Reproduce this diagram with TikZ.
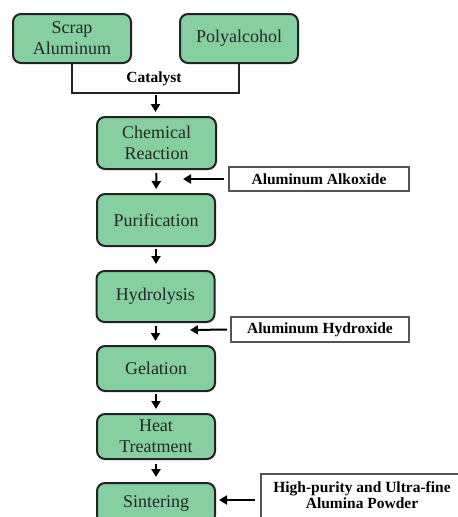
\documentclass[tikz,border=0pt]{standalone}
\usepackage{fontspec}
\setmainfont{Liberation Serif}
\usetikzlibrary{arrows.meta}
\definecolor{boxgreen}{RGB}{134,207,160}
\definecolor{edgegray}{RGB}{35,35,35}
\definecolor{labgray}{RGB}{85,85,85}
\tikzset{
  procbox/.style={draw=edgegray, line width=2pt, fill=boxgreen, rounded corners=8pt,
    minimum width=118pt, align=center, inner sep=1pt, text=black!85,
    font=\fontsize{18}{21}\selectfont},
  labbox/.style={draw=labgray, line width=2pt, fill=white, align=center, inner sep=1pt,
    font=\fontsize{15.5}{16.5}\selectfont\bfseries},
  flowarrow/.style={line width=2pt, -{Triangle[length=8pt,width=9pt]}},
  bracketline/.style={draw=edgegray, line width=1.5pt}
}
\begin{document}
\begin{tikzpicture}[x=1pt,y=-1pt]
\useasboundingbox (0,0) rectangle (458,517);
\clip (0,0) rectangle (458,517);
\node[procbox, minimum height=49pt] (scrap) at (72,38.5) {Scrap\\Aluminum};
\node[procbox, minimum height=49pt] (poly) at (239,38.5) {Polyalcohol};
\node[procbox, minimum width=119pt, minimum height=52pt] (chem) at (156.5,143) {Chemical\\Reaction};
\node[procbox, minimum height=52pt] (purif) at (156,220) {Purification};
\node[procbox, minimum height=51pt] (hydro) at (155.5,296.5) {Hydrolysis};
\node[procbox, minimum height=45pt] (gel) at (156,368.5) {Gelation};
\node[procbox, minimum height=45pt] (heat) at (156,436.5) {Heat\\Treatment};
\node[procbox, minimum height=40pt] (sint) at (156,503) {Sintering};

\coordinate (join) at (155.5,93);
\draw[bracketline] (scrap.south) |- (join) -| (poly.south);
\node[font=\fontsize{15.5}{16.5}\selectfont\bfseries, inner sep=0pt] (cat) at (154,79) {Catalyst};
\draw[flowarrow, shorten <=2pt, shorten >=4pt] (join) -- (join |- chem.north);

\draw[flowarrow, shorten <=3pt, shorten >=4pt] (chem.south) -- (purif.north);
\draw[flowarrow, shorten <=2pt, shorten >=6pt] (purif.south) -- (purif.south |- hydro.north);
\draw[flowarrow, shorten <=3pt, shorten >=4pt] (hydro.south) -- (hydro.south |- gel.north);
\draw[flowarrow, shorten <=2pt, shorten >=4pt] (gel.south) -- (heat.north);
\draw[flowarrow, shorten <=4pt, shorten >=5pt] (heat.south) -- (sint.north);

\node[labbox, minimum width=180pt, minimum height=24pt] (alk) at (319,179) {Aluminum Alkoxide};
\coordinate (alkend) at (183,179);
\draw[flowarrow, shorten <=4pt] (alk.west) -- (alkend);

\node[labbox, minimum width=178pt, minimum height=25pt] (hyd) at (320,329.5) {Aluminum Hydroxide};
\coordinate (hydend) at (190,330);
\draw[flowarrow, shorten <=3pt] (hyd.west) -- (hydend);

\node[labbox, minimum width=206pt, minimum height=56pt, anchor=north west] (hp) at (260,473) {};
\node[font=\fontsize{15.5}{16}\selectfont\bfseries, align=center, inner sep=0pt] (hptext) at (362,495) {High-purity and Ultra-fine\\Alumina Powder};
\draw[flowarrow, shorten <=5pt, shorten >=3pt] (hp.west |- 0,500) -- (sint.east |- 0,500);
\end{tikzpicture}
\end{document}
